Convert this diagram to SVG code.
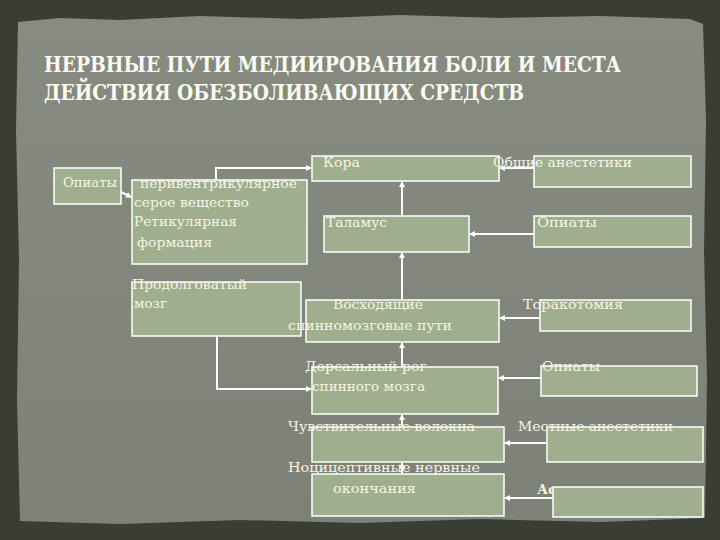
<svg xmlns="http://www.w3.org/2000/svg" width="720" height="540" viewBox="0 0 720 540">
<defs>
<marker id="ah" markerWidth="6" markerHeight="6" refX="5" refY="3" orient="auto" markerUnits="userSpaceOnUse">
<path d="M0,0 L6,3 L0,6 Z" fill="#ffffff"/>
</marker>
<linearGradient id="paper" x1="0" y1="0" x2="0" y2="1">
<stop offset="0" stop-color="#888b7f"/>
<stop offset="1" stop-color="#7e8176"/>
</linearGradient>
</defs>
<style>
.box{fill:#9fae8c;stroke:#ffffff;stroke-width:1.5}
.c{fill:none;stroke:#ffffff;stroke-width:2}
.t{font-family:"DejaVu Serif","Liberation Serif",serif;font-size:13.5px;fill:#f6f4e8}
.h{font-family:"DejaVu Serif Condensed","DejaVu Serif","Liberation Serif",serif;font-size:22px;font-weight:bold;fill:#fbfbf4}
</style>
<rect x="0" y="0" width="720" height="540" fill="#3a3e32"/>
<path d="M18,22 L60,18 L120,20 L200,16 L300,19 L400,15 L500,18 L600,16 L690,19 L703,24 L706,120 L704,250 L707,380 L705,518 L600,522 L480,519 L360,523 L240,520 L120,524 L20,521 L17,400 L19,260 L16,130 Z" fill="url(#paper)"/>
<g id="title">
<text class="h" x="44" y="72" textLength="577" lengthAdjust="spacingAndGlyphs">НЕРВНЫЕ ПУТИ МЕДИИРОВАНИЯ БОЛИ И МЕСТА</text>
<text class="h" x="44" y="100" textLength="480" lengthAdjust="spacingAndGlyphs">ДЕЙСТВИЯ ОБЕЗБОЛИВАЮЩИХ СРЕДСТВ</text>
</g>
<g id="n-opiaty1"><rect class="box" x="54" y="168" width="67" height="36"/><text class="t" x="63" y="187" textLength="54" lengthAdjust="spacingAndGlyphs">Опиаты</text></g>
<g id="n-periv"><rect class="box" x="132" y="180" width="175" height="84"/>
<text class="t" x="140" y="188" textLength="157" lengthAdjust="spacingAndGlyphs">перивентрикулярное</text>
<text class="t" x="134" y="207" textLength="115" lengthAdjust="spacingAndGlyphs">серое  вещество</text>
<text class="t" x="134" y="226" textLength="103" lengthAdjust="spacingAndGlyphs">Ретикулярная</text>
<text class="t" x="137" y="247" textLength="75" lengthAdjust="spacingAndGlyphs">формация</text></g>
<g id="n-kora"><rect class="box" x="312" y="156" width="187" height="25"/><text class="t" x="323" y="167" textLength="37" lengthAdjust="spacingAndGlyphs">Кора</text></g>
<g id="n-obshie"><rect class="box" x="534" y="156" width="157" height="31"/><text class="t" x="493" y="167" textLength="139" lengthAdjust="spacingAndGlyphs">Общие анестетики</text></g>
<g id="n-talamus"><rect class="box" x="324" y="216" width="145" height="36"/><text class="t" x="326" y="227" textLength="61" lengthAdjust="spacingAndGlyphs">Таламус</text></g>
<g id="n-opiaty2"><rect class="box" x="534" y="216" width="157" height="31"/><text class="t" x="537" y="227" textLength="60" lengthAdjust="spacingAndGlyphs">Опиаты</text></g>
<g id="n-prodolg"><rect class="box" x="132" y="282" width="169" height="54"/>
<text class="t" x="132" y="289" textLength="115" lengthAdjust="spacingAndGlyphs">Продолговатый</text>
<text class="t" x="134" y="308" textLength="33" lengthAdjust="spacingAndGlyphs">мозг</text></g>
<g id="n-voshod"><rect class="box" x="306" y="300" width="193" height="42"/>
<text class="t" x="333" y="309" textLength="90" lengthAdjust="spacingAndGlyphs">Восходящие</text>
<text class="t" x="288" y="330" textLength="164" lengthAdjust="spacingAndGlyphs">спинномозговые пути</text></g>
<g id="n-torak"><rect class="box" x="540" y="300" width="151" height="31"/><text class="t" x="523" y="309" textLength="100" lengthAdjust="spacingAndGlyphs">Торакотомия</text></g>
<g id="n-dors"><rect class="box" x="312" y="367" width="186" height="47"/>
<text class="t" x="305" y="371" textLength="122" lengthAdjust="spacingAndGlyphs">Дорсальный рог</text>
<text class="t" x="312" y="391" textLength="113" lengthAdjust="spacingAndGlyphs">спинного мозга</text></g>
<g id="n-opiaty3"><rect class="box" x="541" y="366" width="156" height="30"/><text class="t" x="542" y="371" textLength="58" lengthAdjust="spacingAndGlyphs">Опиаты</text></g>
<g id="n-chuvst"><rect class="box" x="312" y="427" width="192" height="35"/><text class="t" x="288" y="431" textLength="187" lengthAdjust="spacingAndGlyphs">Чувствительные волокна</text></g>
<g id="n-mestn"><rect class="box" x="547" y="427" width="156" height="35"/><text class="t" x="518" y="431" textLength="155" lengthAdjust="spacingAndGlyphs">Местные анестетики</text></g>
<g id="n-nocic"><rect class="box" x="312" y="474" width="192" height="42"/>
<text class="t" x="288" y="472" textLength="192" lengthAdjust="spacingAndGlyphs">Ноцицептивные нервные</text>
<text class="t" x="333" y="493" textLength="83" lengthAdjust="spacingAndGlyphs">окончания</text></g>
<g id="n-as"><text class="t" x="537" y="494" font-weight="bold">Ас</text><rect class="box" x="553" y="487" width="150" height="30"/></g>
<g id="connectors">
<path class="c" d="M121,192 L131,197" marker-end="url(#ah)"/>
<path class="c" d="M216,180 L216,168 L311,168" marker-end="url(#ah)"/>
<path class="c" d="M534,168 L500,168" marker-end="url(#ah)"/>
<path class="c" d="M402,216 L402,182" marker-end="url(#ah)"/>
<path class="c" d="M534,234 L470,234" marker-end="url(#ah)"/>
<path class="c" d="M402,300 L402,253" marker-end="url(#ah)"/>
<path class="c" d="M540,318 L500,318" marker-end="url(#ah)"/>
<path class="c" d="M217,336 L217,389 L311,389" marker-end="url(#ah)"/>
<path class="c" d="M402,367 L402,343" marker-end="url(#ah)"/>
<path class="c" d="M541,378 L499,378" marker-end="url(#ah)"/>
<path class="c" d="M402,427 L402,415" marker-end="url(#ah)"/>
<path class="c" d="M547,443 L505,443" marker-end="url(#ah)"/>
<path class="c" d="M402,474 L402,463" marker-end="url(#ah)"/>
<path class="c" d="M553,498 L505,498" marker-end="url(#ah)"/>
</g>
</svg>
